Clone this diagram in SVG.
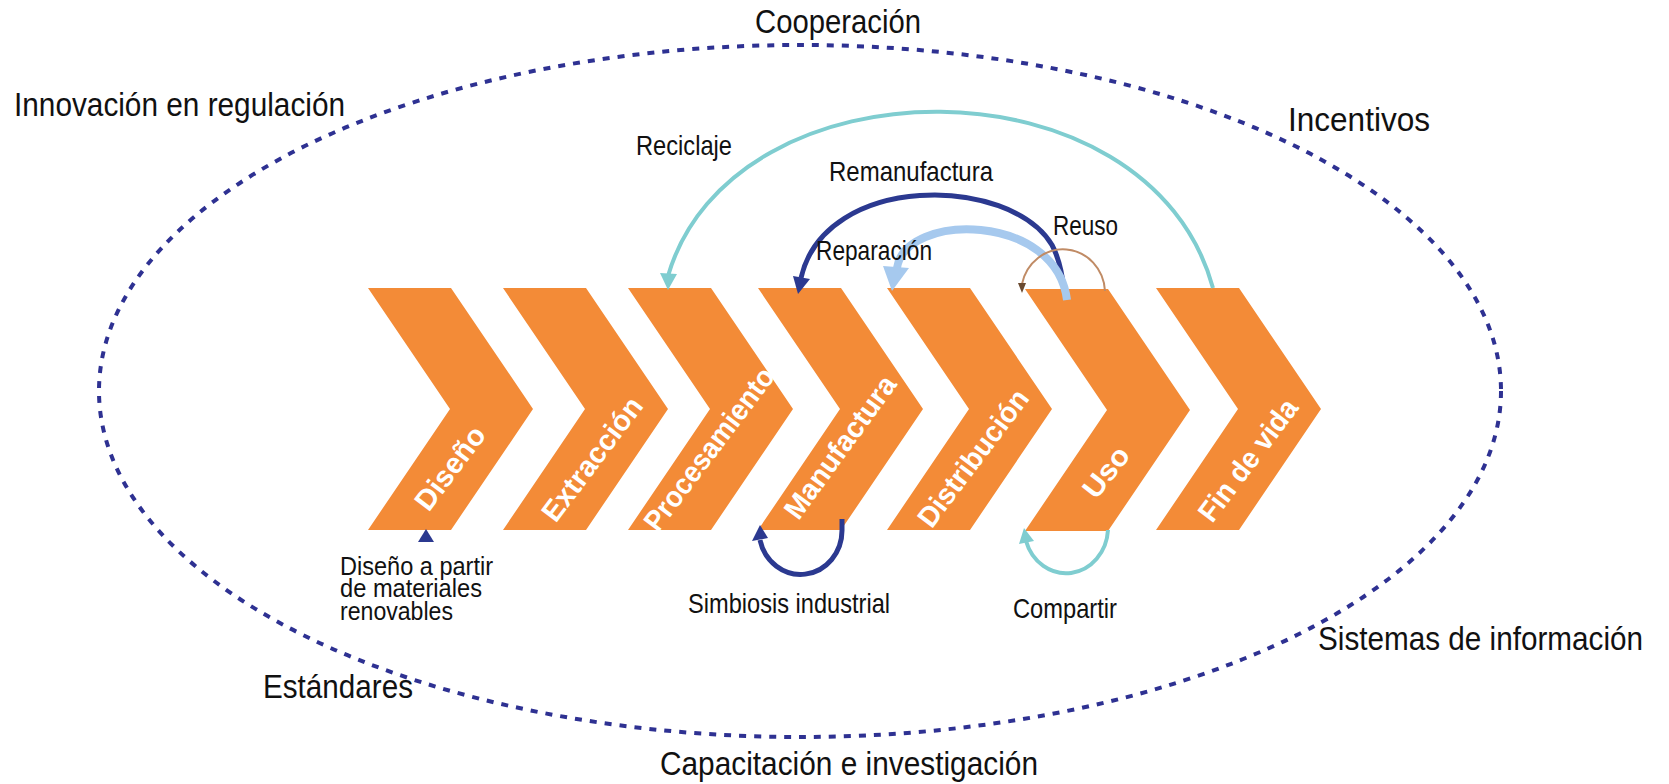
<svg xmlns="http://www.w3.org/2000/svg" width="1669" height="784" viewBox="0 0 1669 784">
  <style>
    .chev { fill: #f38b37; }
    .ctext { font-family: "Liberation Sans", Arial, sans-serif; font-weight: bold; font-size: 29px; fill: #ffffff; text-anchor: middle; }
    .lbl { font-family: "Liberation Sans", Arial, sans-serif; font-size: 28px; fill: #111111; }
    .lbl-s { font-family: "Liberation Sans", Arial, sans-serif; font-size: 25px; fill: #111111; }
    .outer { font-family: "Liberation Sans", Arial, sans-serif; font-size: 33px; fill: #111111; }
    .teal { fill: none; stroke: #7fcdd0; stroke-width: 4; }
    .navy { fill: none; stroke: #2b3990; stroke-width: 5; }
    .lblue { fill: none; stroke: #a6c9ee; stroke-width: 8; }
    .brown { fill: none; stroke: #c08b65; stroke-width: 2; }
  </style>
  <rect width="1669" height="784" fill="#ffffff"/>

  <g id="boundary">
    <ellipse cx="800" cy="391" rx="701" ry="346" fill="none" stroke="#2e3192" stroke-width="4" stroke-dasharray="7 8"/>
  </g>

  <g id="outer-labels">
    <text class="outer" x="838" y="33" text-anchor="middle" textLength="166" lengthAdjust="spacingAndGlyphs">Cooperación</text>
    <text class="outer" x="14" y="116" textLength="331" lengthAdjust="spacingAndGlyphs">Innovación en regulación</text>
    <text class="outer" x="1288" y="131" textLength="142" lengthAdjust="spacingAndGlyphs">Incentivos</text>
    <text class="outer" x="263" y="698" textLength="150" lengthAdjust="spacingAndGlyphs">Estándares</text>
    <text class="outer" x="1318" y="650" textLength="325" lengthAdjust="spacingAndGlyphs">Sistemas de información</text>
    <text class="outer" x="660" y="775" textLength="378" lengthAdjust="spacingAndGlyphs">Capacitación e investigación</text>
  </g>

  <g id="node-diseno">
    <polygon class="chev" points="368,288 451,288 533,409 451,530 368,530 450,409"/>
    <text class="ctext" transform="translate(450,468) rotate(-53)" y="10" textLength="97" lengthAdjust="spacingAndGlyphs">Diseño</text>
  </g>
  <g id="node-extraccion">
    <polygon class="chev" points="503,288 586,288 668,409 586,530 503,530 585,409"/>
    <text class="ctext" transform="translate(592,459) rotate(-53)" y="10" textLength="147" lengthAdjust="spacingAndGlyphs">Extracción</text>
  </g>
  <g id="node-procesamiento">
    <polygon class="chev" points="628,288 711,288 793,409 711,530 628,530 710,409"/>
    <text class="ctext" transform="translate(709,449) rotate(-53)" y="10" textLength="196" lengthAdjust="spacingAndGlyphs">Procesamiento</text>
  </g>
  <g id="node-manufactura">
    <polygon class="chev" points="758,288 841,288 923,409 841,530 758,530 840,409"/>
    <text class="ctext" transform="translate(840,447) rotate(-54)" y="10" textLength="169" lengthAdjust="spacingAndGlyphs">Manufactura</text>
  </g>
  <g id="node-distribucion">
    <polygon class="chev" points="887,288 970,288 1052,409 970,530 887,530 969,409"/>
    <text class="ctext" transform="translate(973,458) rotate(-53)" y="10" textLength="164" lengthAdjust="spacingAndGlyphs">Distribución</text>
  </g>
  <g id="node-uso">
    <polygon class="chev" points="1025,289 1108,289 1190,410 1108,531 1025,531 1107,410"/>
    <text class="ctext" transform="translate(1106,472) rotate(-52)" y="10" textLength="57" lengthAdjust="spacingAndGlyphs">Uso</text>
  </g>
  <g id="node-fin-de-vida">
    <polygon class="chev" points="1156,288 1239,288 1321,409 1239,530 1156,530 1238,409"/>
    <text class="ctext" transform="translate(1248,460) rotate(-53)" y="10" textLength="145" lengthAdjust="spacingAndGlyphs">Fin de vida</text>
  </g>

  <g id="connectors">
    <!-- Reciclaje -->
    <path class="teal" d="M1213,288 C1149,54 732,56 668,276"/>
    <polygon points="668,290 660,273 677,274" fill="#7fcdd0"/>
    <!-- Remanufactura -->
    <path class="navy" d="M1064,290 Q1061,262 1052,245 C1010,175 825,172 801,278"/>
    <polygon points="798,294 793,276 810,279" fill="#2b3990"/>
    <!-- Reparación -->
    <path class="lblue" d="M1067,300 C1056,212 905,212 897,268"/>
    <polygon points="892,291 883,266 909,268" fill="#a6c9ee"/>
    <!-- Reuso -->
    <path class="brown" d="M1105,291 A42,44 0 0 0 1022,284"/>
    <polygon points="1022,293 1018,283 1026,283" fill="#6b4a30"/>
    <!-- Simbiosis industrial -->
    <path class="navy" d="M842,519 L842,530 A41.5,44 0 0 1 760,540"/>
    <polygon points="760,525 752,541 768,538" fill="#2b3990"/>
    <!-- Compartir -->
    <path class="teal" d="M1108,530 A42,46 0 0 1 1026,541"/>
    <polygon points="1024,528 1019,544 1034,541" fill="#7fcdd0"/>
    <!-- Diseño a partir de materiales renovables -->
    <polygon points="426,529 418,542 434,542" fill="#2b3990"/>
  </g>

  <g id="flow-labels">
    <text class="lbl" x="636" y="155" textLength="96" lengthAdjust="spacingAndGlyphs">Reciclaje</text>
    <text class="lbl" x="829" y="181" textLength="164" lengthAdjust="spacingAndGlyphs">Remanufactura</text>
    <text class="lbl" x="816" y="260" textLength="116" lengthAdjust="spacingAndGlyphs">Reparación</text>
    <text class="lbl" x="1053" y="235" textLength="65" lengthAdjust="spacingAndGlyphs">Reuso</text>
    <text class="lbl-s" x="340" y="575" textLength="153" lengthAdjust="spacingAndGlyphs">Diseño a partir</text>
    <text class="lbl-s" x="340" y="597" textLength="142" lengthAdjust="spacingAndGlyphs">de materiales</text>
    <text class="lbl-s" x="340" y="620" textLength="113" lengthAdjust="spacingAndGlyphs">renovables</text>
    <text class="lbl" x="688" y="613" textLength="202" lengthAdjust="spacingAndGlyphs">Simbiosis industrial</text>
    <text class="lbl" x="1013" y="618" textLength="104" lengthAdjust="spacingAndGlyphs">Compartir</text>
  </g>
</svg>
